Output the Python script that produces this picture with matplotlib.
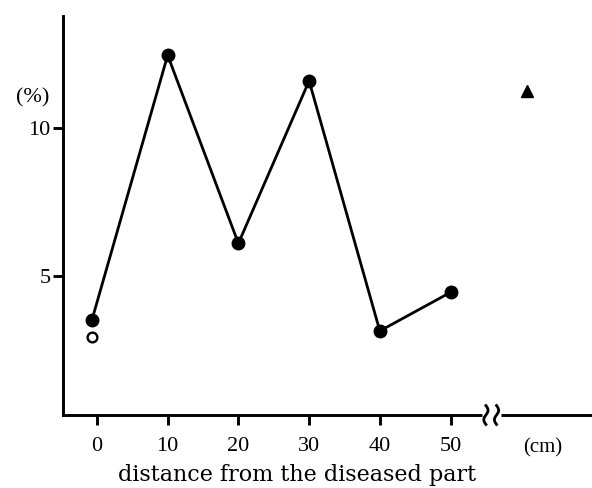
import matplotlib
matplotlib.use("Agg")
import matplotlib.pyplot as plt
import numpy as np

# data
distance = [-0.7, 10, 20, 30, 40, 50]
percent = [3.5, 12.47, 6.09, 11.6, 3.12, 4.43]
open_x = [-0.7]
open_y = [2.93]
control_x = [60.8]
control_y = [11.25]

x_ticks = [0, 10, 20, 30, 40, 50]
x_tick_labels = ["0", "10", "20", "30", "40", "50"]
y_ticks = [5, 10]
y_tick_labels = ["5", "10"]

FONT = "Liberation Serif"
plt.rcParams['font.family'] = [FONT, 'DejaVu Serif']

fig = plt.figure(figsize=(5.92, 4.88), dpi=100)
ax = fig.add_axes([63 / 592, (488 - 415) / 488, (592 - 63) / 592, (415 - 16) / 488])

ax.plot(distance, percent, color='black', lw=2.0, marker='o', ms=9,
        markerfacecolor='black', markeredgecolor='black', zorder=3)
ax.plot(open_x, open_y, linestyle='none', marker='o', ms=7,
        markerfacecolor='white', markeredgecolor='black', markeredgewidth=1.7, zorder=3)
ax.plot(control_x, control_y, linestyle='none', marker='^', ms=8.5,
        color='black', zorder=3)

ax.set_xlim(-4.8, 70)
ax.set_ylim(0.27, 13.8)

for side in ('top', 'right'):
    ax.spines[side].set_visible(False)
for side in ('left', 'bottom'):
    ax.spines[side].set_linewidth(2.1)

ax.set_xticks(x_ticks)
ax.set_xticklabels(x_tick_labels, fontsize=16)
ax.set_yticks(y_ticks)
ax.set_yticklabels(y_tick_labels, fontsize=16)
ax.tick_params(axis='x', direction='out', length=7, width=2.1, pad=9)
ax.tick_params(axis='y', direction='out', length=7, width=2.1, pad=2)

# axis break on x axis
brk = 55.6
ax.plot([brk - 1.2, brk + 1.6], [0.27, 0.27], color='white', lw=5,
        clip_on=False, zorder=4, solid_capstyle='butt')
t = np.linspace(-1, 1, 30)
for dx in (-0.6, 0.9):
    ax.plot(brk + dx + 0.3 * np.sin(t * np.pi), 0.27 + t * 0.32, color='black',
            lw=2.0, clip_on=False, zorder=5)

ax.text(-0.057, 0.795, "(%)", transform=ax.transAxes, fontsize=16,
        ha='center', va='center')
ax.text(0.907, -0.083, "(cm)", transform=ax.transAxes, fontsize=15,
        ha='center', va='center')
ax.text(0.442, -0.15, "distance from the diseased part", transform=ax.transAxes,
        fontsize=16, family=['DejaVu Serif'], ha='center', va='center')

fig.savefig("out.png", dpi=100)
